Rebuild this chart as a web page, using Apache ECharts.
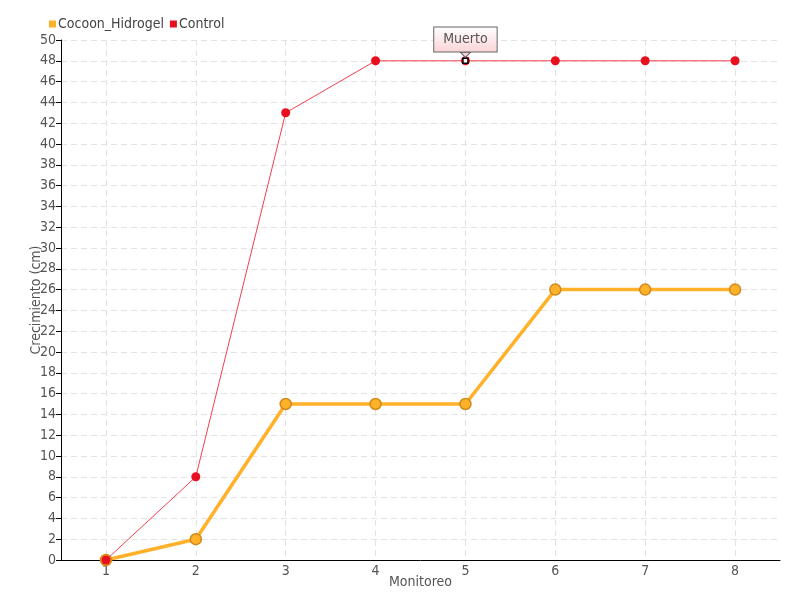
<!DOCTYPE html>
<html><head><meta charset="utf-8">
<script src="https://cdn.jsdelivr.net/npm/echarts@6/dist/echarts.min.js"></script>
<style>html,body{margin:0;padding:0;background:#fff}#c{width:800px;height:600px}</style>
</head><body><div id="c"></div>
<script>
const categories = ['1','2','3','4','5','6','7','8'];
const cocoonValues = [0, 2, 15, 15, 15, 26, 26, 26];
const controlValues = [0, 8, 43, 48, 48, 48, 48, 48];
const annotation = { category: '5', value: 48, text: 'Muerto' };

const FONT = '"DejaVu Sans Condensed", "Liberation Sans Narrow", "DejaVu Sans", sans-serif';
const chart = echarts.init(document.getElementById('c'));
chart.setOption({
  animation: false,
  textStyle: { fontFamily: FONT },
  legend: {
    left: 44, top: 12, itemWidth: 7, itemHeight: 7, itemGap: 6,
    icon: 'rect',
    itemStyle: { borderWidth: 0 },
    textStyle: { fontFamily: FONT, fontSize: 14, color: '#444', padding: [0,0,0,-3] },
    data: ['Cocoon_Hidrogel', 'Control']
  },
  grid: { left: 61, right: 20, top: 40, bottom: 40, containLabel: false },
  xAxis: {
    type: 'category', data: categories, boundaryGap: true,
    name: 'Monitoreo', nameLocation: 'middle', nameGap: 15, nameMoveOverlap: false,
    nameTextStyle: { fontFamily: FONT, fontSize: 14, color: '#555' },
    axisLine: { lineStyle: { color: '#000', width: 1 } },
    axisTick: { alignWithLabel: true, length: 5, lineStyle: { color: '#000' } },
    axisLabel: { fontFamily: FONT, fontSize: 14, color: '#555', margin: 4 },
    splitLine: { show: true, alignWithLabel: true, lineStyle: { color: '#e3e3e3', type: [6, 4] } }
  },
  yAxis: {
    type: 'value', min: 0, max: 50, interval: 2,
    name: 'Crecimiento (cm)', nameLocation: 'middle', nameGap: 18, nameMoveOverlap: false,
    nameTextStyle: { fontFamily: FONT, fontSize: 14, color: '#555' },
    axisLine: { show: true, lineStyle: { color: '#000', width: 1 } },
    axisTick: { show: true, length: 5, lineStyle: { color: '#000' } },
    axisLabel: { fontFamily: FONT, fontSize: 14, color: '#555', margin: 5 },
    splitLine: { show: true, lineStyle: { color: '#e3e3e3', type: [6, 4] } }
  },
  series: [
    {
      name: 'Cocoon_Hidrogel', type: 'line', data: cocoonValues,
      symbol: 'circle', symbolSize: 11,
      lineStyle: { color: '#FFB12A', width: 3.5 },
      itemStyle: { color: '#FFB12A', borderColor: '#D08A1A', borderWidth: 1.5 },
      z: 2
    },
    {
      name: 'Control', type: 'line', data: controlValues,
      symbol: 'circle', symbolSize: 9,
      lineStyle: { color: '#F0404F', width: 1 },
      itemStyle: { color: '#E8101E', borderColor: '#E8101E', borderWidth: 0 },
      z: 3,
      markPoint: {
        symbol: 'rect', symbolSize: 5,
        itemStyle: { color: '#fff', borderColor: '#000', borderWidth: 1.5 },
        label: {
          show: true, position: 'top', distance: 6,
          formatter: annotation.text,
          fontFamily: FONT, fontSize: 14, color: '#555',
          backgroundColor: { type: 'linear', x: 0, y: 0, x2: 0, y2: 1,
            colorStops: [{ offset: 0, color: '#ffffff' }, { offset: 1, color: '#fbd3d6' }] },
          borderColor: '#666', borderWidth: 1, padding: [5, 9, 5, 9]
        },
        data: [
          { coord: [annotation.category, annotation.value] },
          { coord: [annotation.category, annotation.value], symbol: 'triangle', symbolRotate: 180,
            symbolSize: [10, 5], symbolOffset: [0, -6],
            itemStyle: { color: '#fbd3d6', borderColor: '#666', borderWidth: 1 },
            label: { show: false } }
        ]
      }
    }
  ]
});
</script></body></html>
